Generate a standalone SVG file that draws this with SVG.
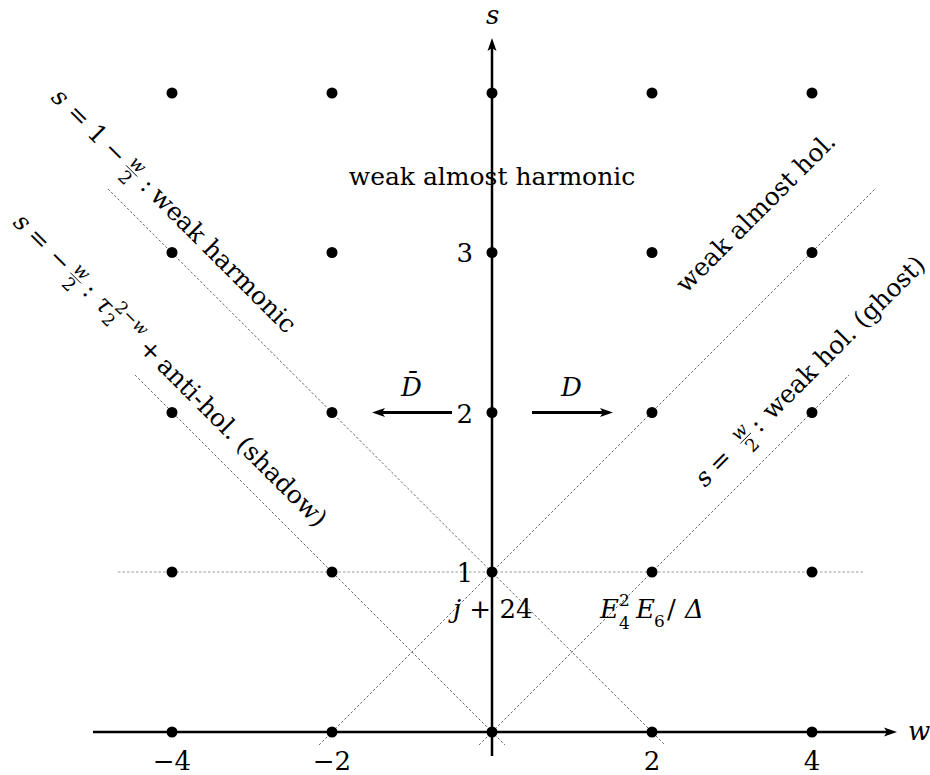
<svg xmlns="http://www.w3.org/2000/svg" width="930" height="775" viewBox="0 0 930 775">
<style>
text { font-family: "DejaVu Serif", "Liberation Serif", serif; fill: #000; }
.t { font-size: 25px; }
.n { font-size: 26px; }
.i { font-style: italic; }
.s { font-size: 17px; }
.f { font-size: 18px; }
.dl { stroke: #555; stroke-width: 0.9; stroke-dasharray: 2.5 2; fill: none; }
.hl { stroke: #999; stroke-width: 1; stroke-dasharray: 2.5 2; fill: none; }
.ax { stroke: #000; stroke-width: 2.5; fill: none; }
.ar { stroke: #000; stroke-width: 3.2; fill: none; }
.fb { stroke: #000; stroke-width: 0.9; }
.dot { fill: #000; }
</style>
<defs>
<marker id="ah" markerUnits="userSpaceOnUse" markerWidth="20" markerHeight="12" viewBox="-8 -6 16 12" refX="0" refY="0" orient="auto" overflow="visible">
<path d="M7,0 L-6,-4.5 L-3,0 L-6,4.5 Z" fill="#000"/>
</marker>
</defs>
<rect width="930" height="775" fill="#fff"/>

<g id="connectors">
<line class="hl" x1="118" y1="572" x2="864" y2="572"/>
<line class="dl" x1="479" y1="745" x2="849" y2="375"/>
<line class="dl" x1="319" y1="745" x2="876" y2="188"/>
<line class="dl" x1="108" y1="189" x2="665" y2="745"/>
<line class="dl" x1="135" y1="375" x2="505" y2="745"/>
<line class="ax" x1="93" y1="732" x2="890" y2="732" marker-end="url(#ah)"/>
<line class="ax" x1="492" y1="756" x2="492" y2="45" marker-end="url(#ah)"/>
<line class="ar" x1="452" y1="412.5" x2="379" y2="412.5" marker-end="url(#ah)"/>
<line class="ar" x1="532" y1="412.5" x2="606" y2="412.5" marker-end="url(#ah)"/>
</g>

<g id="dots">
<g id="p-4_4"><circle class="dot" cx="172" cy="93" r="5.5"/></g>
<g id="p-2_4"><circle class="dot" cx="332" cy="93" r="5.5"/></g>
<g id="p0_4"><circle class="dot" cx="492" cy="93" r="5.5"/></g>
<g id="p2_4"><circle class="dot" cx="652" cy="93" r="5.5"/></g>
<g id="p4_4"><circle class="dot" cx="812" cy="93" r="5.5"/></g>
<g id="p-4_3"><circle class="dot" cx="172" cy="252.5" r="5.5"/></g>
<g id="p-2_3"><circle class="dot" cx="332" cy="252.5" r="5.5"/></g>
<g id="p0_3"><circle class="dot" cx="492" cy="252.5" r="5.5"/></g>
<g id="p2_3"><circle class="dot" cx="652" cy="252.5" r="5.5"/></g>
<g id="p4_3"><circle class="dot" cx="812" cy="252.5" r="5.5"/></g>
<g id="p-4_2"><circle class="dot" cx="172" cy="412.5" r="5.5"/></g>
<g id="p-2_2"><circle class="dot" cx="332" cy="412.5" r="5.5"/></g>
<g id="p0_2"><circle class="dot" cx="492" cy="412.5" r="5.5"/></g>
<g id="p2_2"><circle class="dot" cx="652" cy="412.5" r="5.5"/></g>
<g id="p4_2"><circle class="dot" cx="812" cy="412.5" r="5.5"/></g>
<g id="p-4_1"><circle class="dot" cx="172" cy="572" r="5.5"/></g>
<g id="p-2_1"><circle class="dot" cx="332" cy="572" r="5.5"/></g>
<g id="p0_1"><circle class="dot" cx="492" cy="572" r="5.5"/></g>
<g id="p2_1"><circle class="dot" cx="652" cy="572" r="5.5"/></g>
<g id="p4_1"><circle class="dot" cx="812" cy="572" r="5.5"/></g>
<g id="p-4_0"><circle class="dot" cx="172" cy="732" r="5.5"/></g>
<g id="p-2_0"><circle class="dot" cx="332" cy="732" r="5.5"/></g>
<g id="p0_0"><circle class="dot" cx="492" cy="732" r="5.5"/></g>
<g id="p2_0"><circle class="dot" cx="652" cy="732" r="5.5"/></g>
<g id="p4_0"><circle class="dot" cx="812" cy="732" r="5.5"/></g>
</g>

<g id="axis-labels">
<text class="n i" x="908" y="740">w</text>
<text class="n i" x="486" y="24">s</text>
<text class="n" x="172" y="770" text-anchor="middle">−4</text>
<text class="n" x="332" y="770" text-anchor="middle">−2</text>
<text class="n" x="652" y="770" text-anchor="middle">2</text>
<text class="n" x="812" y="770" text-anchor="middle">4</text>
<text class="n" x="473" y="262" text-anchor="end">3</text>
<text class="n" x="473" y="423" text-anchor="end">2</text>
<text class="n" x="473" y="582" text-anchor="end">1</text>
</g>

<g id="region-label">
<text class="t" x="492" y="185" text-anchor="middle">weak almost harmonic</text>
</g>

<g id="op-Dbar">
<text class="n i" x="401" y="396">D̄</text>
</g>
<g id="op-D">
<text class="n i" x="561" y="396">D</text>
</g>

<g id="label-j24">
<text class="n" x="453" y="618"><tspan class="i">j</tspan> + 24</text>
</g>

<g id="label-E4E6">
<text class="n i" x="600" y="618">E</text>
<text class="s" x="619" y="606">2</text>
<text class="s" x="619" y="629">4</text>
<text class="n i" x="636" y="618">E</text>
<text class="s" x="654" y="627">6</text>
<text class="n" x="667" y="618">/</text>
<text class="n i" x="685" y="618">Δ</text>
</g>

<g id="label-harmonic" transform="translate(50,98.5) rotate(45)">
<text class="t i" x="0" y="0">s</text>
<text class="t" x="22" y="0">=</text>
<text class="t" x="51" y="0">1</text>
<text class="t" x="73.5" y="0">−</text>
<text class="f i" x="109" y="-9.5" text-anchor="middle">w</text>
<line class="fb" x1="101" y1="-6.5" x2="117" y2="-6.5"/>
<text class="f" x="109" y="9" text-anchor="middle">2</text>
<text class="t" x="126" y="0">:</text>
<text class="t" x="140" y="0">weak harmonic</text>
</g>

<g id="label-shadow" transform="translate(12,223.5) rotate(45)">
<text class="t i" x="0" y="0">s</text>
<text class="t" x="19.5" y="0">=</text>
<text class="t" x="49" y="0">−</text>
<text class="f i" x="83.5" y="-9.5" text-anchor="middle">w</text>
<line class="fb" x1="76" y1="-6.5" x2="91" y2="-6.5"/>
<text class="f" x="83.5" y="9" text-anchor="middle">2</text>
<text class="t" x="98" y="0">:</text>
<text class="t i" x="116" y="0">τ</text>
<text class="s" x="131" y="6">2</text>
<text class="s" x="132" y="-12">2−<tspan class="i">w</tspan></text>
<text class="t" x="177.5" y="0">+</text>
<text class="t" x="203" y="0">anti-hol. (shadow)</text>
</g>

<g id="label-almost-hol" transform="translate(686,294) rotate(-45)">
<text class="t" x="0" y="0">weak almost hol.</text>
</g>

<g id="label-ghost" transform="translate(705,488) rotate(-45)">
<text class="t i" x="0" y="0">s</text>
<text class="t" x="19.5" y="0">=</text>
<text class="f i" x="64" y="-9.5" text-anchor="middle">w</text>
<line class="fb" x1="56.5" y1="-6.5" x2="71.5" y2="-6.5"/>
<text class="f" x="64" y="9" text-anchor="middle">2</text>
<text class="t" x="77" y="0">:</text>
<text class="t" x="95" y="0">weak hol. (ghost)</text>
</g>
</svg>
